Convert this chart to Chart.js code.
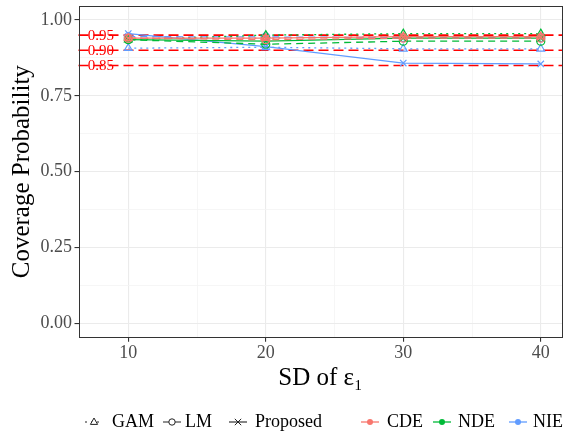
<!DOCTYPE html>
<html><head><meta charset="utf-8">
<script src="https://cdn.jsdelivr.net/npm/chart.js@4"></script>
<style>html,body{margin:0;padding:0;background:#fff;}</style>
</head><body>
<canvas id="c" width="572" height="436" style="display:block;width:572px;height:436px"></canvas>
<script>
// ---- data ----
const sdValues = [10, 20, 30, 40];
const cdeGAM = [0.940, 0.940, 0.945, 0.945];
const cdeLM = [0.940, 0.935, 0.940, 0.940];
const cdeProposed = [0.940, 0.940, 0.945, 0.945];
const ndeGAM = [0.935, 0.950, 0.955, 0.955];
const ndeLM = [0.935, 0.920, 0.930, 0.930];
const ndeProposed = [0.935, 0.930, 0.940, 0.940];
const nieGAM = [0.907, 0.910, 0.905, 0.905];
const nieLM = [0.945, 0.944, 0.942, 0.942];
const nieProposed = [0.955, 0.912, 0.858, 0.855];
const refLines = [0.95, 0.90, 0.85];
const refLabels = ['0.95', '0.90', '0.85'];
const refLabelX = 8;
const xTickValues = [10, 15, 20, 25, 30, 35, 40];
const yTickValues = [0, 0.125, 0.25, 0.375, 0.5, 0.625, 0.75, 0.875, 1];
const methods = ['GAM', 'LM', 'Proposed'];
const effects = ['CDE', 'NDE', 'NIE'];

// ---- styles ----
const effectColors = { CDE: '#F8766D', NDE: '#00BA38', NIE: '#619CFF' };
const methodDash = { GAM: [2, 4], LM: [7, 5], Proposed: [] };
const methodShape = { GAM: 'triangle', LM: 'circle', Proposed: 'crossRot' };
const methodRadius = { GAM: 4.5, LM: 4, Proposed: 4.5 };
const series = {
  CDE: { GAM: cdeGAM, LM: cdeLM, Proposed: cdeProposed },
  NDE: { GAM: ndeGAM, LM: ndeLM, Proposed: ndeProposed },
  NIE: { GAM: nieGAM, LM: nieLM, Proposed: nieProposed }
};
const FONT = "'Liberation Serif', 'Times New Roman', serif";

const datasets = [];
effects.forEach(e => {
  methods.forEach(m => {
    datasets.push({
      label: e + ' ' + m,
      data: sdValues.map((x, i) => ({ x: x, y: series[e][m][i] })),
      borderColor: effectColors[e],
      backgroundColor: 'rgba(0,0,0,0)',
      borderWidth: 1.3,
      borderDash: methodDash[m],
      pointStyle: methodShape[m],
      pointRadius: methodRadius[m],
      pointBorderWidth: 1.2,
      pointBorderColor: effectColors[e],
      pointBackgroundColor: 'rgba(0,0,0,0)',
      tension: 0,
      fill: false
    });
  });
});

const refPlugin = {
  id: 'refPlugin',
  beforeDatasetsDraw(chart) {
    const { ctx, chartArea, scales } = chart;
    ctx.save();
    ctx.fillStyle = '#FF0000';
    ctx.font = '15px ' + FONT;
    ctx.textAlign = 'center';
    ctx.textBaseline = 'middle';
    refLines.forEach((v, i) => {
      ctx.fillText(refLabels[i], scales.x.getPixelForValue(refLabelX), scales.y.getPixelForValue(v) + 1);
    });
    ctx.strokeStyle = '#FF0000';
    ctx.lineWidth = 1.6;
    ctx.setLineDash([10, 5]);
    refLines.forEach(v => {
      const y = scales.y.getPixelForValue(v);
      ctx.beginPath();
      ctx.moveTo(chartArea.left, y);
      ctx.lineTo(chartArea.right, y);
      ctx.stroke();
    });
    ctx.restore();
  },
  afterDraw(chart) {
    const { ctx, chartArea } = chart;
    ctx.save();
    ctx.strokeStyle = '#333333';
    ctx.lineWidth = 1;
    ctx.strokeRect(Math.round(chartArea.left) + 0.5, Math.round(chartArea.top) + 0.5,
      Math.round(chartArea.right - chartArea.left) - 1, Math.round(chartArea.bottom - chartArea.top) - 1);

    // legend
    const ly = 422;
    ctx.font = '18px ' + FONT;
    ctx.textBaseline = 'middle';
    ctx.textAlign = 'left';
    ctx.fillStyle = '#000';
    const methodKeys = [
      { m: 'GAM', cx: 94, tx: 112 },
      { m: 'LM', cx: 172, tx: 185 },
      { m: 'Proposed', cx: 238, tx: 255 }
    ];
    methodKeys.forEach(k => {
      ctx.strokeStyle = '#222';
      ctx.lineWidth = 1.1;
      ctx.setLineDash(methodDash[k.m]);
      ctx.beginPath();
      ctx.moveTo(k.cx - 9, ly);
      ctx.lineTo(k.cx + 9, ly);
      ctx.stroke();
      ctx.setLineDash([]);
      drawShape(ctx, methodShape[k.m], k.cx, ly, 4);
      ctx.fillStyle = '#000';
      ctx.fillText(k.m, k.tx, ly);
    });
    const effectKeys = [
      { e: 'CDE', cx: 370, tx: 387 },
      { e: 'NDE', cx: 442, tx: 458 },
      { e: 'NIE', cx: 518, tx: 533 }
    ];
    effectKeys.forEach(k => {
      ctx.strokeStyle = effectColors[k.e];
      ctx.lineWidth = 1.3;
      ctx.setLineDash([]);
      ctx.beginPath();
      ctx.moveTo(k.cx - 9, ly);
      ctx.lineTo(k.cx + 9, ly);
      ctx.stroke();
      ctx.fillStyle = effectColors[k.e];
      ctx.beginPath();
      ctx.arc(k.cx, ly, 3, 0, Math.PI * 2);
      ctx.fill();
      ctx.fillStyle = '#000';
      ctx.fillText(k.e, k.tx, ly);
    });
    ctx.restore();
  }
};

function drawShape(ctx, shape, x, y, r) {
  ctx.save();
  ctx.strokeStyle = '#222';
  ctx.fillStyle = '#fff';
  ctx.lineWidth = 1;
  ctx.beginPath();
  if (shape === 'triangle') {
    ctx.moveTo(x, y - r);
    ctx.lineTo(x + r * 0.9, y + r * 0.6);
    ctx.lineTo(x - r * 0.9, y + r * 0.6);
    ctx.closePath();
    ctx.fill();
  } else if (shape === 'circle') {
    ctx.arc(x, y, r * 0.8, 0, Math.PI * 2);
    ctx.fill();
  } else {
    const d = r * 0.8;
    ctx.moveTo(x - d, y - d); ctx.lineTo(x + d, y + d);
    ctx.moveTo(x + d, y - d); ctx.lineTo(x - d, y + d);
  }
  ctx.stroke();
  ctx.restore();
}

const gridMajor = '#EBEBEB', gridMinor = '#F4F4F4';

new Chart(document.getElementById('c'), {
  type: 'line',
  data: { datasets: datasets },
  plugins: [refPlugin],
  options: {
    responsive: false,
    animation: false,
    layout: { padding: { top: 4, right: 9.5, bottom: 40, left: 0 } },
    plugins: { legend: { display: false }, tooltip: { enabled: false } },
    scales: {
      x: {
        type: 'linear',
        min: 6.38, max: 41.58,
        afterBuildTicks: s => { s.ticks = xTickValues.map(v => ({ value: v })); },
        afterFit: s => { s.height = 58.3; s.paddingLeft = 0; s.paddingRight = 0; },
        border: { display: false },
        grid: {
          color: c => (c.tick && c.tick.value % 10 === 0) ? gridMajor : gridMinor,
          lineWidth: c => (c.tick && c.tick.value % 10 === 0) ? 1.1 : 0.8,
          tickColor: c => (c.tick && c.tick.value % 10 === 0) ? '#333333' : 'rgba(0,0,0,0)',
          tickLength: 4
        },
        ticks: {
          autoSkip: false, maxRotation: 0,
          padding: 1,
          color: '#4D4D4D',
          font: { family: FONT, size: 18 },
          callback: v => (v % 10 === 0 ? String(v) : '')
        },
        title: {
          display: true, text: 'SD of ε₁', color: '#000',
          font: { family: FONT, size: 25 },
          padding: { top: 0, bottom: 3 }
        }
      },
      y: {
        min: -0.047, max: 1.047,
        afterBuildTicks: s => { s.ticks = yTickValues.map(v => ({ value: v })); },
        afterFit: s => { s.width = 78.5; s.paddingTop = 0; s.paddingBottom = 0; },
        border: { display: false },
        grid: {
          color: c => (c.tick && Math.abs(c.tick.value * 4 - Math.round(c.tick.value * 4)) < 1e-6) ? gridMajor : gridMinor,
          lineWidth: c => (c.tick && Math.abs(c.tick.value * 4 - Math.round(c.tick.value * 4)) < 1e-6) ? 1.1 : 0.8,
          tickColor: c => (c.tick && Math.abs(c.tick.value * 4 - Math.round(c.tick.value * 4)) < 1e-6) ? '#333333' : 'rgba(0,0,0,0)',
          tickLength: 4
        },
        ticks: {
          autoSkip: false,
          padding: 2.5,
          color: '#4D4D4D',
          font: { family: FONT, size: 18 },
          callback: v => (Math.abs(v * 4 - Math.round(v * 4)) < 1e-6 ? v.toFixed(2) : '')
        },
        title: {
          display: true, text: 'Coverage Probability', color: '#000',
          font: { family: FONT, size: 25 },
          padding: { top: 7.5, bottom: 0 }
        }
      }
    }
  }
});
</script>
</body></html>
